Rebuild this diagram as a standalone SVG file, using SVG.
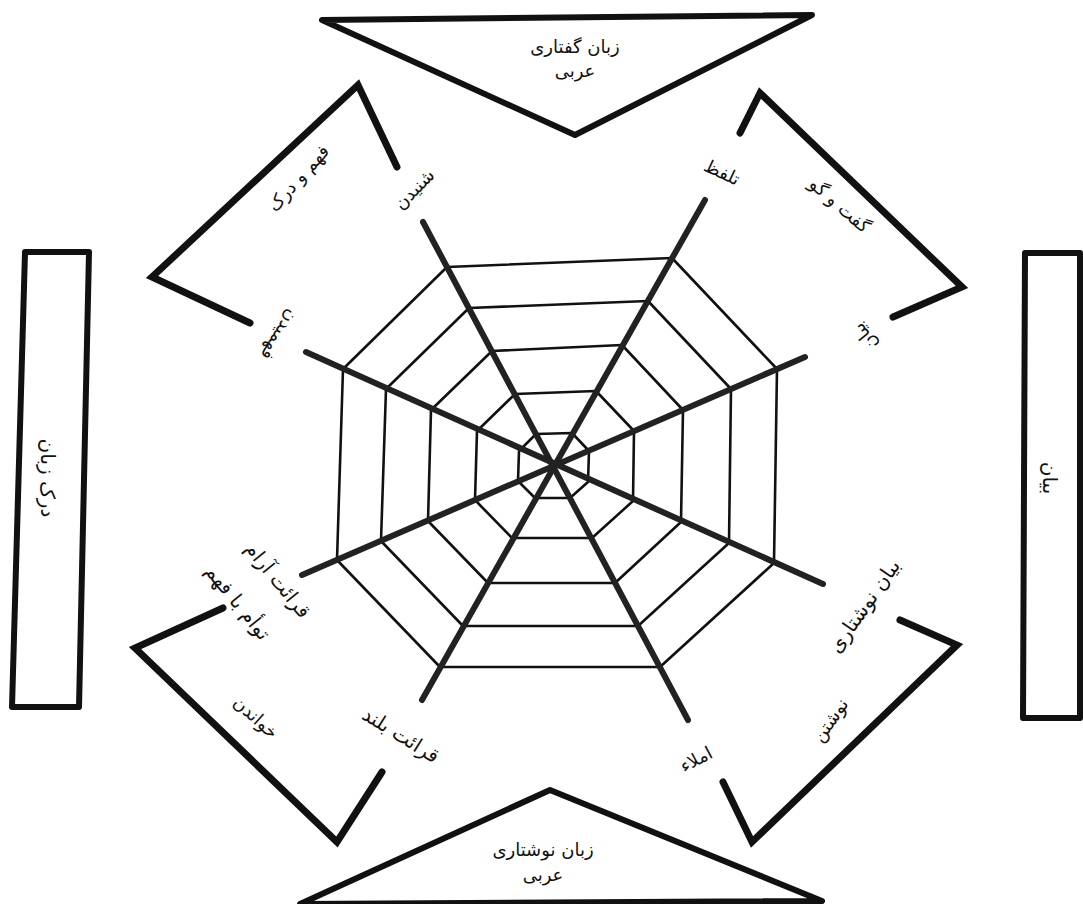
<svg xmlns="http://www.w3.org/2000/svg" width="1083" height="904" viewBox="0 0 1083 904">
<style>
.frame{fill:none;stroke:#111;stroke-width:6;stroke-linejoin:round;stroke-linecap:round}
.bracket{fill:none;stroke:#111;stroke-width:7;stroke-linejoin:miter;stroke-linecap:round}
.ring{fill:none;stroke:#111;stroke-width:2.6;stroke-linejoin:round}
.spoke{stroke:#222;stroke-width:6;stroke-linecap:round}
.t{font-family:"DejaVu Sans","Noto Sans",sans-serif;font-size:18px;fill:#111;text-anchor:middle;dominant-baseline:central}
.big{font-size:20px}
</style>
<rect width="1083" height="904" fill="#fff"/>

<g id="node-top">
<polygon class="frame" points="322,20 812,15 575,135"/>
<text class="t" x="575" y="46">زبان گفتاری</text>
<text class="t" x="575" y="70">عربی</text>
</g>

<g id="node-bottom">
<polygon class="frame" points="550,790 822,901 300,904"/>
<text class="t" x="543" y="849">زبان نوشتاری</text>
<text class="t" x="543" y="874">عربی</text>
</g>

<g id="node-left">
<polygon class="frame" points="25,252 89,252 79,707 12,707"/>
<text class="t big" transform="translate(48,478) rotate(90)">درک زبان</text>
</g>

<g id="node-right">
<polygon class="frame" points="1025,253 1080,253 1080,718 1023,718"/>
<text class="t big" transform="translate(1050,478) rotate(90)">بیان</text>
</g>

<g id="node-listening">
<polyline class="bracket" points="397,167 358,85 152,277 250,323"/>
<text class="t" transform="translate(298,178) rotate(-48)">فهم و درک</text>
</g>

<g id="node-speaking">
<polyline class="bracket" points="740,133 760,93 962,287 893,317"/>
<text class="t" transform="translate(840,205) rotate(41)">گفت و گو</text>
</g>

<g id="node-reading">
<polyline class="bracket" points="223,608 135,648 337,842 382,772"/>
<text class="t" transform="translate(256,717) rotate(42)">خواندن</text>
</g>

<g id="node-writing">
<polyline class="bracket" points="900,620 957,645 752,842 723,782"/>
<text class="t" transform="translate(830,720) rotate(-55)">نوشتن</text>
</g>

<g id="web">
<polygon class="ring" points="447,267 672,258 777,369 774,563 660,667 440,667 337,560 343,369"/>
<polygon class="ring" points="469,308 648,301 731,389 729,543 638,626 463,626 381,541 386,389"/>
<polygon class="ring" points="492,351 622,345 683,410 681,522 615,583 488,583 428,521 431,410"/>
<polygon class="ring" points="515,394 596,391 634,431 633,501 592,538 512,538 475,500 477,431"/>
<polygon class="ring" points="536,434 572,433 589,451 588,482 570,498 535,498 518,481 519,451"/>
</g>

<g id="connectors">
<line class="spoke" x1="423" y1="222" x2="688" y2="720"/>
<line class="spoke" x1="705" y1="200" x2="422" y2="700"/>
<line class="spoke" x1="805" y1="357" x2="302" y2="575"/>
<line class="spoke" x1="306" y1="352" x2="823" y2="584"/>
</g>

<g id="node-spoke-labels">
<text class="t" transform="translate(414,189) rotate(-45)">شنیدن</text>
<text class="t" transform="translate(722,172) rotate(25)">تلفظ</text>
<text class="t" transform="translate(865,337) rotate(-129)">بیان</text>
<text class="t" transform="translate(280,335) rotate(121)">فهمیدن</text>
<text class="t big" transform="translate(278,580) rotate(51)">قرائت آرام</text>
<text class="t big" transform="translate(238,602) rotate(51)">توأم با فهم</text>
<text class="t big" transform="translate(401,735) rotate(32)">قرائت بلند</text>
<text class="t" transform="translate(696,759) rotate(-28)">املاء</text>
<text class="t big" transform="translate(864,606) rotate(-55)">بیان نوشتاری</text>
</g>
</svg>
